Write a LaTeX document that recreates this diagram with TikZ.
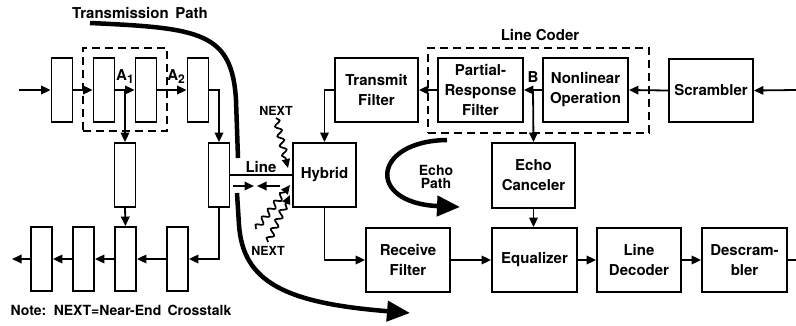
\documentclass[tikz,border=0pt]{standalone}
\usepackage{fontspec}
\setmainfont{TeX Gyre Heros}
\usetikzlibrary{arrows.meta,decorations.pathmorphing}
\newcommand\lowsub[1]{\raisebox{-3.5pt}{\fontsize{12}{12}\selectfont #1}}

\begin{document}
\begin{tikzpicture}[x=1pt,y=-1pt,
  font=\fontsize{15}{20}\selectfont\bfseries,
  blk/.style={draw, line width=1.8pt, align=center, inner sep=0pt,
              minimum width=84pt, minimum height=64pt},
  tap/.style={draw, line width=1.8pt, inner sep=0pt,
              minimum width=21pt, minimum height=64pt},
  grp/.style={draw, line width=1.8pt, dash pattern=on 8pt off 5pt, inner sep=0pt},
  conn/.style={line width=1.8pt, -{Triangle[length=9.5pt,width=8.5pt]}},
  plain/.style={line width=1.8pt},
  heavy/.style={line width=4.5pt},
  heavyarrow/.style={line width=4.5pt, -{Triangle[length=23pt,width=20pt]}},
  wiggle/.style={line width=1.7pt, decorate,
                 decoration={snake, amplitude=3pt, segment length=10pt, post length=7pt},
                 -{Triangle[length=9pt,width=8pt]}},
  lbl/.style={inner sep=0pt, anchor=base},
  small/.style={lbl, font=\fontsize{12.5}{14}\selectfont\bfseries}
]
\useasboundingbox (0,0) rectangle (796,325);

% dashed groupings
\node[grp, minimum width=84pt, minimum height=83pt] (stage) at (125,89.5) {};
\node[grp, minimum width=221pt, minimum height=85pt] (coder) at (538.5,90.5) {};

% tapped chain, upper row
\node[tap] (t1) at (62,90) {};
\node[tap] (t2) at (104,90) {};
\node[tap] (t3) at (146,90) {};
\node[tap] (t4) at (198,90) {};
% middle taps
\node[tap] (m1) at (125,175) {};
\node[tap] (m2) at (219,175) {};
% lower row
\node[tap] (b1) at (41.5,259) {};
\node[tap] (b2) at (83.5,259) {};
\node[tap] (b3) at (125.5,259) {};
\node[tap] (b4) at (177.5,259) {};

% transceiver blocks
\node[blk, minimum width=63pt] (hyb) at (324.5,175) {Hybrid};
\node[blk, minimum width=83pt] (tf) at (376.5,90) {Transmit\\Filter};
\node[blk, minimum width=85pt] (prf) at (480.5,90) {Partial-\\Response\\Filter};
\node[blk, minimum width=85pt] (nl) at (585.5,90) {Nonlinear\\Operation};
\node[blk, minimum height=63pt] (scr) at (711,90.5) {Scrambler};
\node[blk, minimum width=83pt, minimum height=65pt] (ec) at (533.5,175.5) {Echo\\Canceler};
\node[blk] (rf) at (408,260) {Receive\\Filter};
\node[blk, minimum width=85pt] (eq) at (534.5,260) {Equalizer};
\node[blk] (dec) at (639,260) {Line\\Decoder};
\node[blk, minimum width=85pt] (ds) at (744.5,260) {Descram-\\bler};

% labels
\node[lbl] (tpath) at (140,18) {Transmission\, Path};
\node[lbl] (lcoder) at (540,40) {Line Coder};
\node[lbl] (linelbl) at (261,172) {Line};
\node[lbl] (a1) at (125,80) {A\lowsub{1}};
\node[lbl] (a2) at (176,80) {A\lowsub{2}};
\node[lbl] (blbl) at (533,82) {B};
\node[inner sep=0pt, align=center, font=\fontsize{14}{13}\selectfont\bfseries] (epath) at (436,177) {Echo\\Path};
\node[small] (nextT) at (276,115) {NEXT};
\node[small] (nextB) at (268,255) {NEXT};
\node[lbl, font=\fontsize{14}{16}\selectfont\bfseries] (note) at (121,315) {Note:\, NEXT=Near-End\, Crosstalk};

% free ends
\coordinate (inL) at (19,90);
\coordinate (outL) at (12,259);
\coordinate (inR) at (796,90);
\coordinate (outR) at (796,260);
\coordinate (jA) at (125,90);
\coordinate (jB) at (533,90);

% upper chain
\draw[conn] (inL) -- (t1.west);
\draw[conn] (t1.east) -- (t2.west);
\draw[conn] (t2.east) -- (t3.west);
\draw[conn] (t3.east) -- (t4.west);
\draw[conn] (jA) -- (m1.north);
\draw[conn] (m1.south) -- (b3.north);
\draw[conn] (t4.east) -| (m2.north);
\draw[conn] (m2.south) |- (b4.east);
% lower chain
\draw[conn] (b4.west) -- (b3.east);
\draw[conn] (b3.west) -- (b2.east);
\draw[conn] (b2.west) -- (b1.east);
\draw[conn] (b1.west) -- (outL);

% line between tap chain and hybrid
\draw[plain] (m2.east) -- (hyb.west);
\coordinate (lnA) at (233,186);
\coordinate (lnB) at (254,186);
\coordinate (lnC) at (280,186);
\coordinate (lnD) at (257,186);
\draw[conn] (lnA) -- (lnB);
\draw[conn] (lnC) -- (lnD);

% transmit side
\draw[conn] (inR) -- (scr.east);
\draw[conn] (scr.west) -- (nl.east);
\draw[conn] (nl.west) -- (prf.east);
\draw[conn] (prf.west) -- (tf.east);
\draw[conn] (jB) -- (ec.north);
\draw[conn] (tf.west) -| (hyb.north);

% receive side
\draw[conn] (hyb.south) |- (rf.west);
\draw[conn] (rf.east) -- (eq.west);
\draw[conn] (eq.east) -- (dec.west);
\draw[conn] (dec.east) -- (ds.west);
\draw[plain] (ds.east) -- (outR);
\draw[conn] (ec.south) -- (ec.south |- eq.north);

% near-end crosstalk
\coordinate (nx1) at (288,168);
\coordinate (nx2s) at (256,229);
\coordinate (nx2) at (290,185);
\coordinate (nx3s) at (268,242);
\coordinate (nx3) at (290,195);
\draw[wiggle] (nextT.north |- 0,118) -- (nx1);
\draw[wiggle] (nx2s) -- (nx2);
\draw[wiggle] (nx3s) -- (nx3);

% transmission path
\coordinate (tp0) at (90,23);
\coordinate (tp1) at (238,158);
\coordinate (tp2) at (237,193);
\coordinate (tp3) at (410,313);
\draw[heavy] (tp0) .. controls (200,28) and (232,32) .. (236,100) -- (tp1);
\draw[heavyarrow] (tp2) -- (239,225) .. controls (243,282) and (285,303) .. (tp3);

% echo path
\coordinate (ep0) at (447,140);
\coordinate (ep1) at (460,207);
\draw[heavyarrow] (ep0) .. controls (372,141) and (366,203) .. (ep1);
\end{tikzpicture}
\end{document}
